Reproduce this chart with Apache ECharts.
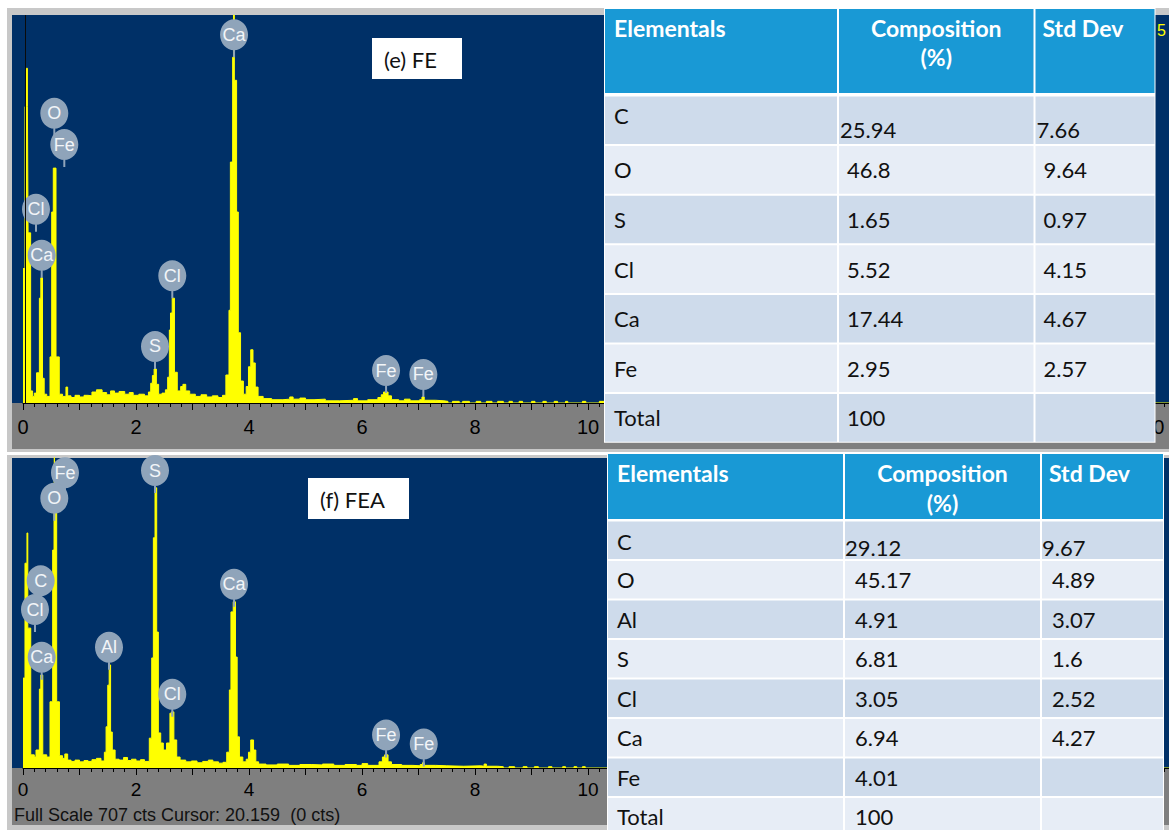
<!DOCTYPE html>
<html>
<head>
<meta charset="utf-8">
<script src="https://cdn.jsdelivr.net/npm/echarts@6/dist/echarts.min.js"></script>
<style>
  html, body { margin: 0; padding: 0; background: #ffffff; }
  #chart { width: 1169px; height: 830px; }
</style>
</head>
<body>
<div id="chart"></div>
<script>
// ---- EDS spectra: [energy keV, counts], each value holds until the next channel ----
const feSpectrum = [
  [0, 245], [0.035, 540], [0.062, 610], [0.078, 540], [0.09, 310], [0.135, 22],
  [0.17, 12], [0.2, 18], [0.24, 55], [0.29, 191], [0.315, 228], [0.345, 45], [0.375, 16],
  [0.42, 12], [0.478, 84], [0.508, 348], [0.536, 428], [0.584, 84], [0.642, 16],
  [0.7, 12], [0.76, 29], [0.79, 13], [0.85, 10], [0.92, 14], [1.0, 11], [1.08, 14], [1.15, 13],
  [1.22, 20], [1.3, 24], [1.4, 19], [1.48, 15], [1.55, 22], [1.62, 18], [1.7, 21], [1.8, 16],
  [1.88, 19], [1.95, 14], [2.05, 16], [2.15, 13], [2.22, 20],
  [2.26, 36], [2.29, 50], [2.32, 62], [2.36, 34], [2.4, 16], [2.46, 18], [2.52, 24],
  [2.56, 47], [2.59, 133], [2.61, 164], [2.64, 191], [2.68, 56], [2.73, 22], [2.79, 30],
  [2.83, 34], [2.88, 22], [2.95, 16], [3.05, 12], [3.15, 15], [3.25, 11], [3.35, 13],
  [3.45, 10], [3.53, 14],
  [3.59, 51], [3.645, 169], [3.67, 439], [3.71, 630], [3.725, 707], [3.74, 588], [3.78, 348],
  [3.81, 128], [3.85, 40], [3.9, 16], [3.95, 30], [3.99, 66], [4.03, 97], [4.07, 73],
  [4.11, 29], [4.16, 12],
  [4.25, 8], [4.4, 6], [4.6, 7], [4.72, 11], [4.78, 7], [4.9, 9], [5.0, 6], [5.15, 7],
  [5.35, 4], [5.6, 5], [5.85, 8], [5.92, 4], [6.1, 6], [6.28, 10], [6.34, 15], [6.38, 20],
  [6.46, 13], [6.52, 6], [6.65, 4], [6.75, 7], [6.85, 4], [7.02, 6], [7.06, 11], [7.1, 5],
  [7.3, 4], [7.45, 3],
  [7.52, 0], [7.6, 3], [7.72, 0], [7.78, 3], [7.9, 0], [8.02, 3], [8.1, 0], [8.2, 3],
  [8.3, 0], [8.4, 3], [8.5, 0], [8.6, 3], [8.66, 0], [8.78, 3], [8.84, 0], [9.0, 3],
  [9.06, 0], [9.2, 3], [9.26, 0], [9.4, 3], [9.46, 0], [9.6, 3], [9.64, 0], [9.9, 3],
  [9.96, 0], [10.2, 3], [10.3, 0], [20.3, 0]
];

const feaSpectrum = [
  [0, 205], [0.035, 467], [0.07, 536], [0.085, 319], [0.137, 30],
  [0.2, 25], [0.23, 41], [0.29, 180], [0.315, 212], [0.35, 30],
  [0.42, 25], [0.478, 151], [0.525, 497], [0.549, 582], [0.555, 720], [0.565, 582],
  [0.596, 151], [0.645, 28],
  [0.7, 22], [0.74, 32], [0.79, 18], [0.85, 15], [0.92, 18], [1.0, 14], [1.08, 17],
  [1.15, 15], [1.22, 19], [1.3, 22], [1.38, 16],
  [1.44, 36], [1.47, 94], [1.5, 189], [1.525, 235], [1.55, 82], [1.58, 41], [1.63, 20],
  [1.7, 18], [1.78, 24], [1.85, 17], [1.92, 20], [2.0, 16], [2.08, 19], [2.15, 15],
  [2.235, 68], [2.278, 251], [2.307, 525], [2.336, 639], [2.366, 310], [2.395, 80],
  [2.437, 57], [2.483, 41],
  [2.54, 57], [2.6, 125], [2.63, 128], [2.67, 64], [2.72, 25],
  [2.78, 18], [2.88, 14], [2.98, 16], [3.08, 12], [3.18, 15], [3.28, 18], [3.36, 14],
  [3.46, 11], [3.54, 13],
  [3.605, 36], [3.652, 178], [3.68, 356], [3.72, 379], [3.76, 253], [3.79, 71], [3.83, 25],
  [3.89, 14],
  [3.95, 20], [3.99, 36], [4.03, 64], [4.08, 41], [4.12, 14], [4.17, 9],
  [4.3, 7], [4.5, 9], [4.7, 6], [4.9, 8], [5.1, 7], [5.3, 9], [5.5, 6], [5.7, 8], [5.9, 6],
  [6.0, 10], [6.1, 6], [6.3, 14], [6.36, 25], [6.4, 30], [6.46, 14], [6.52, 8], [6.7, 6],
  [6.9, 5], [7.03, 8], [7.07, 12], [7.1, 6], [7.3, 5], [7.5, 4], [7.8, 5], [8.1, 4],
  [8.16, 9], [8.2, 4], [8.4, 3], [8.5, 0], [8.6, 3], [8.7, 0], [8.85, 3], [8.92, 0],
  [9.05, 3], [9.12, 0], [9.3, 3], [9.36, 0], [9.55, 3], [9.6, 0], [9.75, 3], [9.8, 0],
  [9.9, 3], [9.95, 0], [20.3, 0]
];

// ---- element line markers: [element, energy keV, counts at the marker tip] ----
const feMarkers = [
  ['Cl', 0.23, 312], ['Ca', 0.331, 228], ['O', 0.554, 487], ['Fe', 0.731, 430],
  ['S', 2.336, 62], ['Cl', 2.642, 191], ['Ca', 3.735, 630], ['Fe', 6.425, 18], ['Fe', 7.085, 11]
];
const feaMarkers = [
  ['Fe', 0.743, 622], ['O', 0.554, 564], ['C', 0.313, 376], ['Cl', 0.212, 310], ['Ca', 0.331, 201],
  ['Al', 1.522, 224], ['S', 2.336, 627], ['Cl', 2.642, 117], ['Ca', 3.735, 368],
  ['Fe', 6.425, 24], ['Fe', 7.092, 3.4]
];

// ---- axis ticks ----
const energyMin = 0;
const energyMax = 20.28;
const energyStep = 1;
const fullScale = 707;

// ---- composition tables ----
const tableHeader = ['Elementals', 'Composition', '(%)', 'Std Dev'];
const feElements = ['C', 'O', 'S', 'Cl', 'Ca', 'Fe', 'Total'];
const feComposition = [25.94, 46.8, 1.65, 5.52, 17.44, 2.95, 100];
const feStdDev = [7.66, 9.64, 0.97, 4.15, 4.67, 2.57, null];
const feaElements = ['C', 'O', 'Al', 'S', 'Cl', 'Ca', 'Fe', 'Total'];
const feaComposition = [29.12, 45.17, 4.91, 6.81, 3.05, 6.94, 4.01, 100];
const feaStdDev = [9.67, 4.89, 3.07, 1.6, 2.52, 4.27, null, null];

const panelTitles = ['(e) FE', '(f) FEA'];
const statusText = 'Full Scale 707 cts Cursor: 20.159  (0 cts)';

// ---------------------------------------------------------------
const BLUE = '#003067';
const YELLOW = '#ffff00';
const FRAME = '#c8c8c8';
const STRIP = '#7f7f7f';
const BADGE = '#8fa4ba';

// badge: ellipse with a short stem, tip at the bottom
const badgePath = 'path://M0 15.5 C0 6.94 6.27 0 14 0 C21.73 0 28 6.94 28 15.5 C28 24.06 21.73 31 14 31 C6.27 31 0 24.06 0 15.5 Z M13 29 L15 29 L15 38 L13 38 Z';

function spectrumSeries(data, idx) {
  return {
    type: 'line', xAxisIndex: idx, yAxisIndex: idx, data: data,
    step: 'end', symbol: 'none', z: 2,
    lineStyle: { color: YELLOW, width: 1 },
    areaStyle: { color: YELLOW, opacity: 1 },
    clip: true
  };
}

function markerSeries(list, idx) {
  return {
    type: 'scatter', xAxisIndex: idx, yAxisIndex: idx, z: 4,
    data: list.map(m => ({ name: m[0], value: [m[1], m[2]] })),
    symbol: badgePath, symbolSize: [28, 38], symbolOffset: [0, -19],
    itemStyle: { color: BADGE, opacity: 1 },
    label: {
      show: true, position: 'inside', formatter: '{b}', offset: [0, -3.5],
      color: '#f2f5f8', fontSize: 18, fontFamily: 'Liberation Sans'
    },
    clip: false
  };
}

function axisX(idx, labelSize, margin) {
  return {
    type: 'value', gridIndex: idx, min: energyMin, max: energyMax, interval: energyStep, z: 3,
    axisLine: { show: true, onZero: false, lineStyle: { color: '#000', width: 1 } },
    axisTick: { show: true, length: 7, lineStyle: { color: '#000', width: 1 } },
    minorTick: { show: true, splitNumber: 5, length: 4, lineStyle: { color: '#000', width: 1 } },
    splitLine: { show: false },
    axisLabel: {
      color: '#000', fontSize: labelSize, fontFamily: 'Liberation Sans', margin: margin,
      formatter: v => (Math.round(v) % 2 === 0 ? String(Math.round(v)) : '')
    }
  };
}

function axisY(idx) {
  return { type: 'value', gridIndex: idx, min: 0, max: fullScale, show: false };
}

function fmt(v) { return v === null ? '' : String(v); }

// draws one composition table from its row arrays
function tableElements(t, names, comp, std) {
  const els = [];
  const n = names.length;
  const bottom = t.rowTop + n * t.rowH;
  els.push({ type: 'rect', z: 50, shape: { x: t.cols[0], y: t.headTop, width: t.cols[3] - t.cols[0], height: bottom - t.headTop }, style: { fill: '#ffffff' } });
  for (let c = 0; c < 3; c++) {
    const x = t.cols[c] + 1, w = t.cols[c + 1] - t.cols[c] - 2;
    els.push({ type: 'rect', z: 51, shape: { x: x, y: t.headTop + 1, width: w, height: t.headBottom - t.headTop - 1 }, style: { fill: '#1999d5' } });
    for (let r = 0; r < n; r++) {
      els.push({ type: 'rect', z: 51, shape: { x: x, y: t.rowTop + r * t.rowH + 1, width: w, height: t.rowH - 2 }, style: { fill: r % 2 === 0 ? '#cedbeb' : '#e7edf6' } });
    }
  }
  const headFont = 'bold 23px Lato';
  const bodyFont = '22px Lato';
  const ty = t.headTop + 20;
  els.push({ type: 'text', z: 52, x: t.cols[0] + 10, y: ty, style: { text: tableHeader[0], fill: '#fff', font: headFont, textAlign: 'left', textVerticalAlign: 'middle' } });
  const cx = (t.cols[1] + t.cols[2]) / 2;
  els.push({ type: 'text', z: 52, x: cx, y: ty, style: { text: tableHeader[1], fill: '#fff', font: headFont, textAlign: 'center', textVerticalAlign: 'middle' } });
  els.push({ type: 'text', z: 52, x: cx, y: ty + t.headLine, style: { text: tableHeader[2], fill: '#fff', font: headFont, textAlign: 'center', textVerticalAlign: 'middle' } });
  els.push({ type: 'text', z: 52, x: t.cols[2] + 8, y: ty, style: { text: tableHeader[3], fill: '#fff', font: headFont, textAlign: 'left', textVerticalAlign: 'middle' } });
  for (let r = 0; r < n; r++) {
    const yc = t.rowTop + r * t.rowH + t.rowH / 2;
    const first = r === 0;
    const ly = first ? yc + t.firstLabelDy : yc;
    const vy = first ? yc + t.firstValueDy : yc;
    const vdx = first ? t.firstValueDx : t.valueDx;
    els.push({ type: 'text', z: 52, x: t.cols[0] + 10, y: ly, style: { text: names[r], fill: '#111', font: bodyFont, textAlign: 'left', textVerticalAlign: 'middle' } });
    els.push({ type: 'text', z: 52, x: t.cols[1] + vdx, y: vy, style: { text: fmt(comp[r]), fill: '#111', font: bodyFont, textAlign: 'left', textVerticalAlign: 'middle' } });
    els.push({ type: 'text', z: 52, x: t.cols[2] + vdx, y: vy, style: { text: fmt(std[r]), fill: '#111', font: bodyFont, textAlign: 'left', textVerticalAlign: 'middle' } });
  }
  return els;
}

const topTable = { cols: [604, 838, 1034.5, 1155.5], headTop: 8, headBottom: 93, headLine: 29, rowTop: 95.5, rowH: 49.6,
  firstLabelDy: -5, firstValueDy: 9, firstValueDx: 2, valueDx: 9 };
const bottomTable = { cols: [607, 844, 1041, 1164], headTop: 453, headBottom: 519, headLine: 30, rowTop: 520.5, rowH: 39.5,
  firstLabelDy: 1, firstValueDy: 7, firstValueDx: 1, valueDx: 11 };

const background = [
  { type: 'rect', z: -10, shape: { x: 7, y: 8, width: 1162, height: 444 }, style: { fill: FRAME } },
  { type: 'rect', z: -9, shape: { x: 12, y: 15, width: 1157, height: 388 }, style: { fill: BLUE } },
  { type: 'rect', z: -9, shape: { x: 12, y: 403, width: 1157, height: 46 }, style: { fill: STRIP } },
  { type: 'rect', z: -10, shape: { x: 7, y: 455, width: 1162, height: 375 }, style: { fill: FRAME } },
  { type: 'rect', z: -9, shape: { x: 12, y: 458, width: 1157, height: 310 }, style: { fill: BLUE } },
  { type: 'rect', z: -9, shape: { x: 12, y: 768, width: 1157, height: 57 }, style: { fill: STRIP } }
];

const annotations = [
  { type: 'rect', z: 40, shape: { x: 372, y: 38, width: 90, height: 41 }, style: { fill: '#ffffff' } },
  { type: 'text', z: 41, x: 384, y: 59, style: { text: panelTitles[0], fill: '#111', font: '22px Lato', textAlign: 'left', textVerticalAlign: 'middle' } },
  { type: 'rect', z: 40, shape: { x: 308, y: 478, width: 101, height: 41 }, style: { fill: '#ffffff' } },
  { type: 'text', z: 41, x: 320, y: 499, style: { text: panelTitles[1], fill: '#111', font: '22px Lato', textAlign: 'left', textVerticalAlign: 'middle' } },
  { type: 'text', z: 41, x: 14, y: 815, style: { text: statusText, fill: '#111', font: '18px "Liberation Sans"', textAlign: 'left', textVerticalAlign: 'middle' } },
  { type: 'text', z: 41, x: 1157, y: 30, style: { text: '5', fill: YELLOW, font: '16px "Liberation Sans"', textAlign: 'left', textVerticalAlign: 'middle' } }
];

const chart = echarts.init(document.getElementById('chart'), null, { renderer: 'svg' });
chart.setOption({
  animation: false,
  backgroundColor: '#ffffff',
  grid: [
    { left: 23, top: 15, width: 1146, height: 388 },
    { left: 23, top: 458, width: 1146, height: 310 }
  ],
  xAxis: [axisX(0, 20, 14), axisX(1, 19, 12)],
  yAxis: [axisY(0), axisY(1)],
  series: [
    {
      type: 'line', xAxisIndex: 0, yAxisIndex: 0, data: [], z: 1,
      markLine: {
        silent: true, symbol: 'none', label: { show: false },
        lineStyle: { color: '#0b0b0b', width: 1, type: 'solid' },
        data: [{ xAxis: 0.035 }]
      }
    },
    spectrumSeries(feSpectrum, 0),
    spectrumSeries(feaSpectrum, 1),
    markerSeries(feMarkers, 0),
    markerSeries(feaMarkers, 1)
  ],
  graphic: [].concat(
    background,
    annotations,
    tableElements(topTable, feElements, feComposition, feStdDev),
    tableElements(bottomTable, feaElements, feaComposition, feaStdDev)
  )
});
</script>
</body>
</html>
